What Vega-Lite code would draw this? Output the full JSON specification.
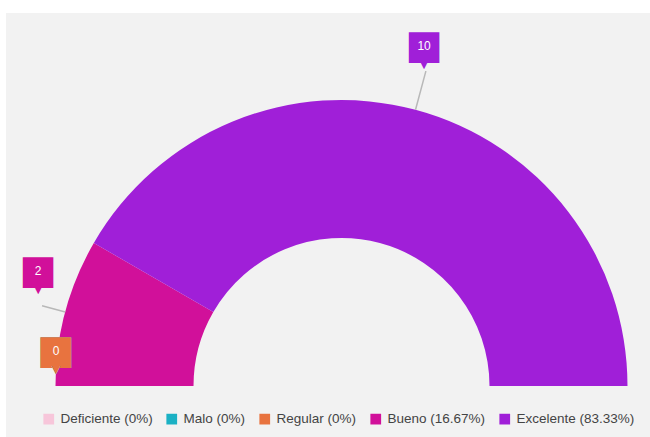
{
  "$schema": "https://vega.github.io/schema/vega-lite/v6.json",
  "width": 644,
  "height": 424,
  "autosize": "none",
  "padding": {"left": 6, "top": 13, "right": 0, "bottom": 0},
  "background": "white",
  "view": {"fill": "#f2f2f2", "stroke": null},
  "data": {
    "values": [
      {"categoria": "Deficiente", "leyenda": "Deficiente (0%)", "valor": 0},
      {"categoria": "Malo", "leyenda": "Malo (0%)", "valor": 0},
      {"categoria": "Regular", "leyenda": "Regular (0%)", "valor": 0},
      {"categoria": "Bueno", "leyenda": "Bueno (16.67%)", "valor": 2},
      {"categoria": "Excelente", "leyenda": "Excelente (83.33%)", "valor": 10}
    ]
  },
  "encoding": {
    "theta": {"field": "valor", "type": "quantitative", "stack": true, "scale": {"range": [-1.5708, 1.5708]}},
    "order": {"field": "valor", "type": "quantitative", "sort": "ascending"},
    "color": {
      "field": "leyenda",
      "type": "nominal",
      "sort": ["Deficiente (0%)", "Malo (0%)", "Regular (0%)", "Bueno (16.67%)", "Excelente (83.33%)"],
      "scale": {
        "domain": ["Deficiente (0%)", "Malo (0%)", "Regular (0%)", "Bueno (16.67%)", "Excelente (83.33%)"],
        "range": ["#f7c6da", "#1bb1c4", "#e8733f", "#d1109a", "#a01fd8"]
      },
      "legend": {
        "title": null,
        "orient": "none",
        "legendX": 36,
        "legendY": 399,
        "direction": "horizontal",
        "symbolType": "square",
        "symbolSize": 115,
        "symbolStrokeWidth": 0,
        "labelFont": "Liberation Sans",
        "labelFontSize": 13.5,
        "labelColor": "#444444",
        "labelOffset": 5,
        "columnPadding": 12
      }
    }
  },
  "layer": [
    {
      "mark": {"type": "arc", "x": 335.5, "y": 373, "outerRadius": 286, "innerRadius": 148}
    },
    {
      "mark": {"type": "arc", "x": 335.5, "y": 373, "innerRadius": 286, "outerRadius": 326, "padAngle": 3.3, "filled": false, "stroke": "#b8b8b8", "strokeWidth": 1.5},
      "encoding": {
        "color": {"value": "#b8b8b8"},
        "strokeOpacity": {"condition": {"test": "datum.categoria === 'Excelente'", "value": 1}, "value": 0}
      }
    },
    {
      "mark": {"type": "arc", "x": 335.5, "y": 373, "innerRadius": 286, "outerRadius": 310, "padAngle": 3.3, "filled": false, "stroke": "#b8b8b8", "strokeWidth": 1.5},
      "encoding": {
        "color": {"value": "#b8b8b8"},
        "strokeOpacity": {"condition": {"test": "datum.categoria === 'Bueno'", "value": 1}, "value": 0}
      }
    },
    {
      "mark": {"type": "text", "x": 335.5, "y": 373, "radius": 350, "dx": -8, "dy": -2, "font": "DejaVu Sans", "fontSize": 40, "baseline": "middle", "align": "center", "text": "■"},
      "encoding": {"opacity": {"condition": {"test": "datum.categoria === 'Excelente'", "value": 1}, "value": 0}}
    },
    {
      "mark": {"type": "text", "x": 335.5, "y": 373, "radius": 350, "dx": -8, "dy": 17, "font": "DejaVu Sans", "fontSize": 11, "baseline": "middle", "align": "center", "text": "▼"},
      "encoding": {"opacity": {"condition": {"test": "datum.categoria === 'Excelente'", "value": 1}, "value": 0}}
    },
    {
      "mark": {"type": "text", "x": 335.5, "y": 373, "radius": 350, "dx": -8, "dy": -2, "font": "Liberation Sans", "fontSize": 12, "baseline": "middle", "align": "center"},
      "encoding": {
        "text": {"field": "valor", "type": "quantitative"},
        "color": {"value": "white"},
        "opacity": {"condition": {"test": "datum.categoria === 'Excelente'", "value": 1}, "value": 0}
      }
    },
    {
      "mark": {"type": "text", "x": 335.5, "y": 373, "radius": 314, "dx": 0, "dy": -34, "font": "DejaVu Sans", "fontSize": 40, "baseline": "middle", "align": "center", "text": "■"},
      "encoding": {"opacity": {"condition": {"test": "datum.categoria === 'Bueno'", "value": 1}, "value": 0}}
    },
    {
      "mark": {"type": "text", "x": 335.5, "y": 373, "radius": 314, "dx": 0, "dy": -15, "font": "DejaVu Sans", "fontSize": 11, "baseline": "middle", "align": "center", "text": "▼"},
      "encoding": {"opacity": {"condition": {"test": "datum.categoria === 'Bueno'", "value": 1}, "value": 0}}
    },
    {
      "mark": {"type": "text", "x": 335.5, "y": 373, "radius": 314, "dx": 0, "dy": -34, "font": "Liberation Sans", "fontSize": 12, "baseline": "middle", "align": "center"},
      "encoding": {
        "text": {"field": "valor", "type": "quantitative"},
        "color": {"value": "white"},
        "opacity": {"condition": {"test": "datum.categoria === 'Bueno'", "value": 1}, "value": 0}
      }
    },
    {
      "mark": {"type": "text", "x": 335.5, "y": 373, "radius": 285.5, "dx": 0, "dy": -35, "font": "DejaVu Sans", "fontSize": 40, "baseline": "middle", "align": "center", "text": "■"},
      "encoding": {"opacity": {"condition": {"test": "datum.valor === 0", "value": 1}, "value": 0}}
    },
    {
      "mark": {"type": "text", "x": 335.5, "y": 373, "radius": 285.5, "dx": 0, "dy": -16, "font": "DejaVu Sans", "fontSize": 11, "baseline": "middle", "align": "center", "text": "▼"},
      "encoding": {"opacity": {"condition": {"test": "datum.valor === 0", "value": 1}, "value": 0}}
    },
    {
      "mark": {"type": "text", "x": 335.5, "y": 373, "radius": 285.5, "dx": 0, "dy": -35, "font": "Liberation Sans", "fontSize": 12, "baseline": "middle", "align": "center"},
      "encoding": {
        "text": {"field": "valor", "type": "quantitative"},
        "color": {"value": "white"},
        "opacity": {"condition": {"test": "datum.categoria === 'Regular'", "value": 1}, "value": 0}
      }
    }
  ]
}
